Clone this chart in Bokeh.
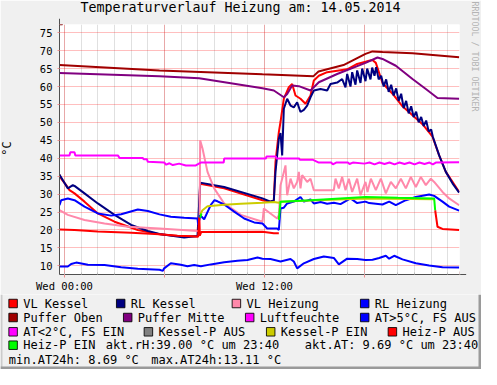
import math
import numpy as np
from bokeh.plotting import figure
from bokeh.layouts import column
from bokeh.core.properties import value
from bokeh.models import FixedTicker, Label, BoxAnnotation, Arrow, NormalHead, Range1d
from bokeh.embed import file_html
from bokeh.resources import INLINE

# ---------------- data (hours relative to Wed 00:00, value in °C) ----------------
TITLE = "Temperaturverlauf Heizung am: 14.05.2014"
UNIT = "°C"
WATERMARK = "RRDTOOL / TOBI OETIKER"
X_MAJOR = [0, 6, 12, 18]
X_LABELS = ["Wed 00:00", "", "Wed 12:00", ""]
X_MINOR = list(range(0, 24))
Y_TICKS = [10, 15, 20, 25, 30, 35, 40, 45, 50, 55, 60, 65, 70, 75]

VL_KESSEL = [(-0.30, 35.4), (-0.20, 34.3), (0.10, 32.5), (0.30, 31.1), (0.60, 30.2), (1.20, 27.9),
             (2.00, 24.6), (3.00, 22.3), (4.40, 20.0), (5.70, 18.8), (6.78, 18.3), (7.88, 18.2),
             (8.02, 18.2), (8.14, 32.9), (9.58, 31.6), (11.88, 28.3), (12.36, 27.9), (12.56, 28.2),
             (12.66, 39.0), (12.86, 47.3), (12.96, 50.1), (13.16, 56.6), (13.46, 59.8), (13.66, 60.7),
             (13.86, 57.5), (14.16, 56.6), (14.46, 55.2), (14.76, 57.5), (14.96, 61.7), (15.26, 63.0),
             (15.76, 64.0), (16.36, 64.4), (16.96, 64.8), (17.56, 66.3), (18.06, 66.9), (18.28, 67.2),
             (18.48, 67.4), (18.68, 66.6), (19.08, 61.0), (19.68, 58.0), (20.28, 54.5), (20.88, 52.0),
             (21.48, 49.5), (22.08, 46.0), (22.48, 40.8), (22.88, 36.2), (23.28, 33.4), (23.68, 30.6)]

RL_KESSEL = [(-0.30, 35.4), (0.20, 31.6), (0.50, 32.5), (0.60, 32.3), (1.20, 30.2), (2.00, 27.4),
             (3.00, 24.2), (4.00, 21.4), (5.00, 19.7), (5.70, 18.9), (7.18, 17.9), (7.98, 18.3),
             (8.14, 33.2), (9.58, 32.0), (11.88, 28.8), (12.36, 27.9), (12.56, 28.3), (12.66, 36.2),
             (12.86, 45.4), (12.96, 47.0), (13.06, 40.8), (13.16, 53.8), (13.36, 56.6), (13.56, 54.7),
             (13.76, 54.2), (13.96, 55.6), (14.16, 52.9), (14.36, 53.5), (14.56, 54.7), (14.76, 57.0),
             (14.96, 58.9), (15.36, 59.3), (15.76, 58.9), (15.96, 60.7), (16.36, 61.1), (16.66, 62.1),
             (16.86, 59.8), (16.96, 63.5), (17.16, 60.0), (17.26, 64.0), (17.46, 60.5), (17.56, 64.5),
             (17.76, 61.0), (17.86, 65.0), (18.06, 61.5), (18.16, 65.0), (18.36, 62.0), (18.46, 65.3),
             (18.60, 63.0), (18.70, 65.4), (18.85, 62.0), (19.00, 63.0), (19.15, 60.0), (19.30, 62.0),
             (19.45, 58.5), (19.60, 60.5), (19.75, 57.5), (19.90, 59.5), (20.05, 56.0), (20.20, 58.0),
             (20.35, 54.0), (20.50, 56.0), (20.65, 52.5), (20.80, 54.5), (20.95, 51.5), (21.10, 53.0),
             (21.25, 50.0), (21.40, 51.5), (21.55, 49.0), (21.70, 50.5), (21.85, 47.5), (22.00, 48.0),
             (22.10, 46.0), (22.48, 40.8), (22.88, 36.2), (23.28, 33.0), (23.68, 30.4)]

VL_HEIZUNG = [(-0.30, 25.5), (0.20, 24.2), (1.20, 22.8), (2.40, 21.8), (3.80, 20.9), (5.70, 20.4),
              (7.98, 19.7), (8.10, 19.8), (8.14, 45.0), (8.28, 42.7), (8.58, 36.2), (8.98, 31.6),
              (9.58, 27.4), (10.58, 24.2), (11.88, 22.3), (11.96, 26.0), (12.36, 24.6), (12.76, 23.2),
              (12.86, 24.1), (12.96, 32.5), (13.06, 34.3), (13.26, 38.0), (13.36, 29.7), (13.56, 34.3),
              (13.76, 31.6), (13.96, 33.4), (14.06, 36.2), (14.16, 31.6), (14.26, 35.3), (14.56, 33.4),
              (14.76, 34.3), (14.96, 31.1), (15.96, 31.1), (16.16, 31.1), (16.26, 34.3), (16.46, 31.6),
              (16.66, 34.8), (16.86, 31.1), (17.06, 34.3), (17.26, 30.6), (17.56, 34.3), (17.76, 29.7),
              (18.06, 33.4), (18.18, 30.6), (18.38, 34.3), (18.68, 31.1), (18.98, 34.3), (19.28, 30.2),
              (19.58, 33.4), (19.88, 31.6), (20.18, 34.3), (20.48, 31.6), (20.78, 34.8), (21.08, 32.0),
              (21.38, 34.8), (21.68, 32.5), (21.98, 34.3), (22.18, 33.4), (22.68, 30.6), (23.08, 28.8),
              (23.68, 26.9)]

RL_HEIZUNG = [(-0.30, 26.9), (-0.20, 28.3), (0.20, 28.8), (0.60, 28.3), (1.20, 26.5), (2.00, 24.6),
              (2.80, 24.0), (3.40, 24.4), (4.40, 25.7), (5.00, 25.3), (5.70, 24.35), (6.38, 23.7),
              (7.18, 23.4), (7.98, 23.2), (8.02, 21.4), (8.14, 24.1), (8.38, 23.0), (8.78, 27.0),
              (9.00, 28.3), (9.18, 28.0), (9.58, 27.1), (10.18, 25.1), (10.78, 23.2), (11.38, 22.1),
              (11.88, 21.8), (12.16, 20.4), (12.76, 20.4), (12.86, 20.0), (12.96, 26.0), (13.16, 26.2),
              (13.36, 27.4), (13.76, 27.9), (14.16, 29.2), (14.36, 27.9), (14.76, 28.5), (14.96, 27.4),
              (15.36, 27.8), (15.76, 27.3), (16.16, 27.6), (16.56, 27.2), (17.16, 28.8), (17.56, 27.5),
              (18.06, 27.9), (18.28, 27.5), (19.08, 27.1), (19.48, 27.9), (19.88, 26.9), (20.48, 28.3),
              (21.08, 29.2), (21.88, 29.9), (22.18, 29.5), (22.68, 27.9), (23.08, 26.5), (23.68, 25.4)]

PUFFER_OBEN = [(-0.30, 66.0), (5.70, 64.5), (11.88, 63.4), (14.94, 62.9), (15.24, 64.2), (16.74, 66.0),
               (18.06, 69.1), (18.48, 69.8), (19.08, 69.6), (20.88, 69.3), (23.68, 68.2)]

PUFFER_MITTE = [(-0.30, 63.8), (5.70, 62.9), (8.08, 62.3), (11.88, 59.5), (12.56, 58.9), (13.16, 57.0),
                (13.36, 57.9), (13.66, 60.3), (14.06, 60.1), (14.76, 58.9), (15.26, 61.2), (16.36, 63.5),
                (18.06, 66.6), (18.78, 68.1), (19.08, 67.7), (19.88, 65.8), (20.88, 62.1), (21.68, 59.3),
                (22.38, 56.8), (23.68, 56.6)]

LUFTFEUCHTE = [(-0.30, 40.8), (0.30, 40.8), (0.35, 41.7), (0.60, 41.7), (0.65, 40.8), (3.20, 40.8),
               (3.30, 40.1), (4.70, 40.1), (4.75, 39.7), (4.95, 39.7), (5.00, 39.0), (5.98, 38.8),
               (6.10, 38.2), (6.30, 38.6), (6.50, 38.1), (6.88, 38.5), (7.28, 38.0), (7.88, 38.0),
               (7.98, 38.3), (8.18, 38.8), (9.55, 38.8), (9.58, 39.9), (12.08, 39.9), (12.12, 40.5),
               (12.68, 40.5), (12.72, 39.9), (14.08, 39.9), (14.12, 39.6), (14.88, 39.6), (15.26, 38.8),
               (16.00, 38.8), (16.10, 38.3), (16.30, 38.8), (17.00, 38.8), (17.10, 38.4), (17.30, 38.8),
               (18.00, 38.5), (18.30, 38.8), (18.60, 38.3), (18.90, 38.8), (19.20, 38.4), (19.50, 38.8),
               (19.80, 38.3), (20.10, 38.8), (20.40, 38.4), (20.70, 38.8), (21.00, 38.3), (21.30, 38.8),
               (21.60, 38.4), (21.90, 38.8), (22.10, 38.3), (22.28, 38.8), (23.68, 38.9)]

AUSSEN = [(-0.30, 9.8), (0.20, 9.8), (0.40, 10.5), (0.70, 10.9), (1.40, 10.3), (2.40, 10.2), (3.40, 9.6),
          (4.40, 9.2), (5.70, 8.9), (5.90, 8.6), (5.98, 9.3), (6.38, 10.7), (6.98, 10.3), (7.38, 9.9),
          (7.78, 10.2), (8.18, 9.9), (8.78, 10.4), (9.58, 11.0), (10.38, 11.4), (10.98, 11.65),
          (11.58, 12.3), (11.88, 12.0), (12.36, 11.9), (12.96, 11.2), (13.56, 11.9), (13.76, 11.2),
          (13.96, 9.3), (14.36, 10.7), (14.96, 11.9), (15.56, 12.6), (16.16, 12.2), (16.46, 10.4),
          (16.96, 12.0), (17.56, 11.9), (18.06, 11.6), (18.48, 11.7), (18.88, 12.2), (19.28, 12.8),
          (19.48, 12.0), (19.78, 12.8), (20.28, 11.8), (21.08, 10.7), (21.88, 10.1), (22.68, 9.6),
          (23.68, 9.5)]

KESSEL_P_EIN = [(8.14, 24.3), (8.28, 25.5), (8.58, 26.6), (9.58, 27.0), (10.58, 27.3), (11.88, 27.6),
                (12.56, 27.8), (12.86, 27.6), (12.96, 27.9), (14.76, 28.2), (18.06, 28.8), (22.18, 28.6)]

HEIZ_P_AUS = [(-0.30, 20.1), (0.60, 20.0), (2.00, 19.6), (4.00, 19.2), (5.70, 18.8), (6.78, 18.4),
              (8.02, 18.2), (8.08, 23.5), (8.12, 18.4), (8.20, 19.4), (11.88, 19.5), (12.56, 19.1),
              (12.86, 19.1), (None, None), (22.24, 25.5), (22.38, 20.9), (22.68, 20.3), (23.68, 20.0)]

HEIZ_P_EIN = [(8.14, 23.4), (8.22, 24.6), (None, None), (12.86, 22.8), (12.96, 27.9), (14.76, 28.3),
              (18.06, 29.2), (20.00, 29.0), (22.18, 28.8), (22.24, 25.5)]

LEGEND_NAMES = ["VL Kessel", "RL Kessel", "VL Heizung", "RL Heizung",
                "Puffer Oben", "Puffer Mitte", "Luftfeuchte", "AT>5°C, FS AUS",
                "AT<2°C, FS EIN", "Kessel-P AUS", "Kessel-P EIN", "Heiz-P AUS",
                "Heiz-P EIN"]
LEGEND_COLORS = ["#FF0000", "#000080", "#FF88AA", "#0000FF",
                 "#A00000", "#800080", "#FF00FF", "#0000FF",
                 "#FF00FF", "#808080", "#CCCC00", "#FF0000",
                 "#00FF00"]
AKT_RH, AKT_AT, MIN_AT, MAX_AT = 39.00, 9.69, 8.69, 13.11
AKT_TIME = "23:40"

# ---------------- layout constants ----------------
W = 481
H_TOP, H_LEG = 294, 75
FONT = "DejaVu Sans Mono"
LIGHT, DARK = "#CBCBCB", "#9A9A9A"

# ---------------- main chart ----------------
fig = figure(width=W, height=H_TOP, output_backend="svg", toolbar_location=None,
             x_range=Range1d(-0.30, 23.70), y_range=Range1d(7.58, 77.30),
             min_border_left=59, min_border_right=22, min_border_top=24, min_border_bottom=19,
             background_fill_color="white", border_fill_color="#F0F0F0", outline_line_color=None)

fig.xaxis.ticker = FixedTicker(ticks=X_MAJOR, minor_ticks=X_MINOR)
fig.xgrid.ticker = FixedTicker(ticks=X_MAJOR, minor_ticks=X_MINOR)
fig.xgrid.grid_line_color = "#FF0000"
fig.xgrid.grid_line_alpha = 0.25
fig.xgrid.minor_grid_line_color = "#E0E0E0"
fig.yaxis.ticker = FixedTicker(ticks=Y_TICKS)
fig.ygrid.ticker = FixedTicker(ticks=Y_TICKS)
fig.ygrid.grid_line_color = "#FF0000"
fig.ygrid.grid_line_alpha = 0.25

for ax in (fig.xaxis[0], fig.yaxis[0]):
    ax.axis_line_color = "#505050"
    ax.major_label_text_font = FONT
    ax.major_label_text_font_size = "10.5px"
    ax.major_label_text_color = "#000000"
    ax.major_tick_line_color = "#F09090"
fig.xaxis.major_label_overrides = {t: s for t, s in zip(X_MAJOR, X_LABELS)}
fig.xaxis.major_tick_in = 3
fig.xaxis.major_tick_out = 3
fig.xaxis.minor_tick_in = 2
fig.xaxis.minor_tick_out = 0
fig.xaxis.minor_tick_line_color = "#BBBBBB"
fig.xaxis.major_label_standoff = 2
fig.yaxis.major_tick_in = 0
fig.yaxis.major_tick_out = 2
fig.yaxis.minor_tick_line_color = None
fig.yaxis.major_label_standoff = 5


def draw(pairs, color, width=2):
    xs = np.array([np.nan if a is None else a for a, b in pairs], dtype=float)
    ys = np.array([np.nan if b is None else b for a, b in pairs], dtype=float)
    fig.line(xs, ys, line_color=color, line_width=width)


draw(VL_KESSEL, LEGEND_COLORS[0])
draw(RL_KESSEL, LEGEND_COLORS[1])
draw(VL_HEIZUNG, LEGEND_COLORS[2])
draw(RL_HEIZUNG, LEGEND_COLORS[3])
draw(PUFFER_OBEN, LEGEND_COLORS[4])
draw(PUFFER_MITTE, LEGEND_COLORS[5])
draw(LUFTFEUCHTE, LEGEND_COLORS[6])
draw(AUSSEN, LEGEND_COLORS[7])
draw(KESSEL_P_EIN, LEGEND_COLORS[10])
draw(HEIZ_P_AUS, LEGEND_COLORS[11])
draw(HEIZ_P_EIN, LEGEND_COLORS[12])


def canvas_label(side, x, y, text, size="12px", align="left", angle=0.0, color="#000000"):
    fig.add_layout(Label(x=x, y=y, x_units="canvas", y_units="canvas", text=text,
                         text_font=FONT, text_font_size=size, text_align=align,
                         text_baseline="middle", angle=angle, text_color=color), side)


canvas_label("above", 240, 7, TITLE, size="13.3px", align="center")
canvas_label("left", 6, 148, UNIT, size="12px", align="center", angle=math.pi / 2)
canvas_label("right", 474, 1, WATERMARK, size="8.3px", angle=-math.pi / 2, color="#B4B4B4")

# axis arrows (placed in side panels so they are not clipped to the frame)
fig.add_layout(Arrow(x_start=-0.30, y_start=77.30, x_end=-0.30, y_end=78.9,
                     line_color="#505050", line_width=1,
                     end=NormalHead(size=6, fill_color="#7F0000", line_color="#7F0000")), "above")
fig.add_layout(Arrow(x_start=23.70, y_start=7.58, x_end=24.10, y_end=7.58,
                     line_color="#505050", line_width=1,
                     end=NormalHead(size=6, fill_color="#7F0000", line_color="#7F0000")), "right")

# outer 3D frame, upper part
for l, r, t, b, c in [(0, W, 0, 2, LIGHT), (0, 2, 0, H_TOP, LIGHT), (W - 3, W, 0, H_TOP, DARK)]:
    fig.add_layout(BoxAnnotation(left=l, right=r, top=t, bottom=b,
                                 left_units="canvas", right_units="canvas",
                                 top_units="canvas", bottom_units="canvas",
                                 fill_color=c, fill_alpha=1.0, line_color=None), "above")

# ---------------- legend strip (pixel coordinates, y downward) ----------------
leg = figure(width=W, height=H_LEG, output_backend="svg", toolbar_location=None,
             x_range=Range1d(0, W), y_range=Range1d(H_LEG, 0),
             x_axis_location=None, y_axis_location=None, min_border=0,
             background_fill_color="#F0F0F0", border_fill_color="#F0F0F0", outline_line_color=None)
leg.grid.visible = False

for f in (fig, leg):
    if "frame_align" in f.properties():
        f.frame_align = False

ROW_Y = [9.0, 23.0, 37.3, 50.7, 65.3]
LEG_TEXT_X = [[22.7, 130.3, 246.0, 374.3],
              [22.7, 137.3, 259.3, 374.3],
              [22.7, 158.0, 280.3, 402.0],
              [22.7]]
sw_x, sw_y, tx_x, tx_y = [], [], [], []
for r, xs in enumerate(LEG_TEXT_X):
    for tx in xs:
        sw_x.append(tx - 10.1)
        sw_y.append(ROW_Y[r])
        tx_x.append(tx)
        tx_y.append(ROW_Y[r])
leg.rect(x=sw_x, y=sw_y, width=8.5, height=8.5, fill_color=LEGEND_COLORS,
         line_color="#000000", line_alpha=0.85, line_width=1)

extra_text = [f"akt.rH:{AKT_RH:5.2f} °C um {AKT_TIME}", f"akt.AT:{AKT_AT:5.2f} °C um {AKT_TIME}",
              f"min.AT24h:{MIN_AT:5.2f} °C", f"max.AT24h:{MAX_AT:5.2f} °C"]
extra_x = [105.3, 304.3, 8.3, 150.7]
extra_y = [ROW_Y[3], ROW_Y[3], ROW_Y[4], ROW_Y[4]]
leg.text(x=tx_x + extra_x, y=tx_y + extra_y, text=LEGEND_NAMES + extra_text,
         text_font=value(FONT), text_font_size=value("12px"), text_baseline="middle",
         text_align="left", text_color="#000000")

for l, r, t, b, c in [(0, 2, 0, H_LEG, LIGHT), (W - 3, W, 0, H_LEG, DARK), (0, W, H_LEG - 3, H_LEG, DARK)]:
    leg.add_layout(BoxAnnotation(left=l, right=r, top=t, bottom=b,
                                 fill_color=c, fill_alpha=1.0, line_color=None))

p = column(fig, leg, spacing=0)
open("out.html", "w").write(file_html(p, INLINE))
